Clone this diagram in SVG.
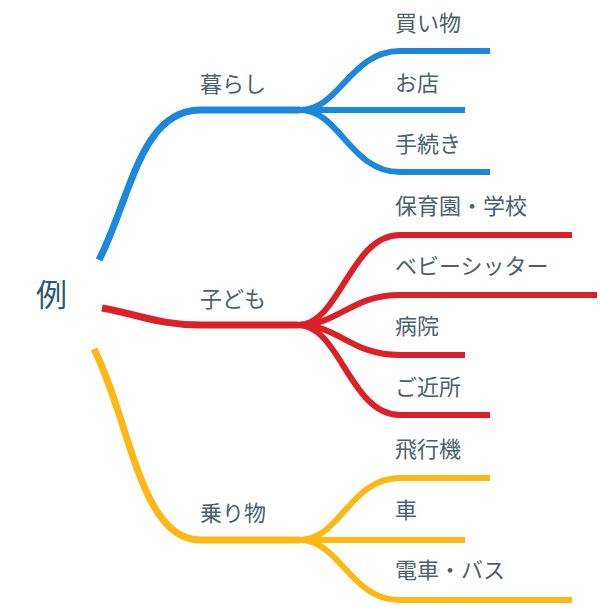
<svg xmlns="http://www.w3.org/2000/svg" width="600" height="607" viewBox="0 0 600 607">
<style>
.l{fill:none;stroke-linecap:butt}
.m{stroke-width:7}
.c{stroke-width:6}
.b{stroke:#1a88dc}.r{stroke:#dd2027}.y{stroke:#fdb813}
text{font-family:"Noto Sans CJK JP",sans-serif;fill:#4b5f6c;font-size:22px}
.root{fill:#2e5a6e;font-size:31px}
</style>
<g id="connectors">
<path class="l m b" d="M99,260 C130,200 140,110 200,110 L300,110"/>
<path class="l c b" d="M300,110 C340,110 350,51 400,51 L490,51"/>
<path class="l c b" d="M300,110 L465,110"/>
<path class="l c b" d="M300,110 C340,110 350,172 400,172 L490,172"/>
<path class="l m r" d="M102,308 C140,315 160,325 200,325 L298,325"/>
<path class="l c r" d="M298,325 C340,325 350,235 400,235 L572,235"/>
<path class="l c r" d="M298,325 C340,325 350,295 400,295 L597,295"/>
<path class="l c r" d="M298,325 C340,325 350,355 400,355 L465,355"/>
<path class="l c r" d="M298,325 C340,325 350,415 400,415 L490,415"/>
<path class="l m y" d="M94,349 C130,420 140,540 200,540 L300,540"/>
<path class="l c y" d="M300,540 C340,540 350,478 400,478 L490,478"/>
<path class="l c y" d="M300,540 L465,540"/>
<path class="l c y" d="M300,540 C340,540 350,600 400,600 L572,600"/>
</g>
<g id="root"><text class="root" x="36" y="306">例</text></g>
<g id="n1"><text x="200" y="92">暮らし</text></g>
<g id="n2"><text x="200" y="307">子ども</text></g>
<g id="n3"><text x="200" y="521">乗り物</text></g>
<g id="c1"><text x="395" y="31">買い物</text></g>
<g id="c2"><text x="395" y="91">お店</text></g>
<g id="c3"><text x="395" y="152">手続き</text></g>
<g id="c4"><text x="395" y="214">保育園・学校</text></g>
<g id="c5"><text x="395" y="274">ベビーシッター</text></g>
<g id="c6"><text x="395" y="334">病院</text></g>
<g id="c7"><text x="395" y="395">ご近所</text></g>
<g id="c8"><text x="395" y="457">飛行機</text></g>
<g id="c9"><text x="395" y="518">車</text></g>
<g id="c10"><text x="395" y="578">電車・バス</text></g>
</svg>
